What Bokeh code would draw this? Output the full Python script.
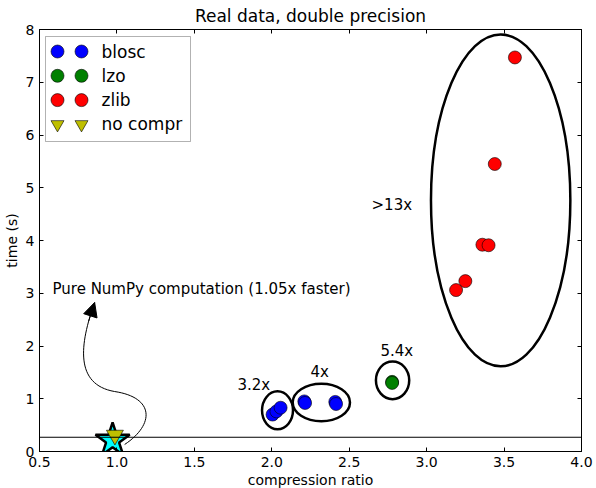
import numpy as np
from bokeh.plotting import figure
from bokeh.models import (LinearAxis, FixedTicker, Span, Arrow, NormalHead, Range1d,
                          BoxAnnotation, Label)
from bokeh.embed import file_html
from bokeh.resources import INLINE

# ---------------- data ----------------
blosc_x = [2.005, 2.03, 2.057, 2.21, 2.215, 2.41, 2.415]
blosc_y = [0.70, 0.76, 0.83, 0.95, 0.92, 0.94, 0.90]
lzo_x = [2.777, 2.777]
lzo_y = [1.32, 1.30]
zlib_x = [3.57, 3.44, 3.36, 3.40, 3.25, 3.19]
zlib_y = [7.47, 5.45, 3.92, 3.91, 3.23, 3.06]
nocompr_x = [0.987]
nocompr_y = [0.31]
numpy_x = [0.972]
numpy_y = [0.21]
numpy_baseline = 0.27

# groups circled and their labels
ell_x = [2.037, 2.32, 2.78, 3.478]
ell_y = [0.78, 0.93, 1.35, 4.76]
ell_w = [0.20, 0.37, 0.215, 0.90]
ell_h = [0.72, 0.71, 0.715, 6.29]
lab_text = ["3.2x", "4x", "5.4x", ">13x"]
lab_x = [1.884, 2.31, 2.807, 2.775]
lab_y = [1.27, 1.50, 1.90, 4.68]

note_text = "Pure NumPy computation (1.05x faster)"
note_x = 0.584
note_y = 3.09
# annotation arrow path (two cubic segments): start, c1, c2, mid, c3, c4, end
arr_px = [1.050, 1.244, 1.244, 0.985, 0.726, 0.759, 0.856]
arr_py = [0.133, 0.512, 1.024, 1.137, 1.270, 2.028, 2.825]

legend_labels = ["blosc", "lzo", "zlib", "no compr"]
legend_colors = ["#0000ff", "#008000", "#ff0000", "#bfbf00"]
legend_markers = ["circle", "circle", "circle", "inverted_triangle"]

x_ticks = [0.5, 1.0, 1.5, 2.0, 2.5, 3.0, 3.5, 4.0]
y_ticks = [0, 1, 2, 3, 4, 5, 6, 7, 8]

FONT = "DejaVu Sans"
X0, X1, Y0, Y1 = 0.5, 4.0, 0.0, 8.0
FW, FH = 542, 422

p = figure(frame_width=FW, frame_height=FH, x_range=Range1d(X0, X1), y_range=Range1d(Y0, Y1),
           output_backend="svg", toolbar_location=None,
           title="Real data, double precision",
           min_border_left=32, min_border_right=14, min_border_top=24, min_border_bottom=0)
p.title.align = "center"
p.title.text_font = FONT
p.title.text_font_size = "17px"
p.title.text_font_style = "normal"
p.title.text_color = "black"
p.title.standoff = 7
p.grid.visible = False
p.outline_line_color = "black"
p.outline_line_width = 1
p.background_fill_color = "white"
p.border_fill_color = "white"

for ax in (p.xaxis[0], p.yaxis[0]):
    ax.major_tick_in = 4
    ax.major_tick_out = 0
    ax.minor_tick_line_color = None
    ax.major_label_text_font = FONT
    ax.major_label_text_font_size = "14px"
    ax.major_label_text_color = "black"
    ax.axis_label_text_font = FONT
    ax.axis_label_text_font_size = "14px"
    ax.axis_label_text_font_style = "normal"
    ax.axis_label_text_color = "black"
    ax.axis_line_color = "black"
    ax.major_tick_line_color = "black"
p.xaxis[0].ticker = FixedTicker(ticks=x_ticks)
p.yaxis[0].ticker = FixedTicker(ticks=y_ticks)
p.xaxis[0].major_label_overrides = {t: f"{t:.1f}" for t in x_ticks}
p.xaxis[0].axis_label = "compression ratio"
p.yaxis[0].axis_label = "time (s)"
p.xaxis[0].major_label_standoff = 5
p.xaxis[0].axis_label_standoff = 2
p.yaxis[0].major_label_standoff = 5
p.yaxis[0].axis_label_standoff = 3

for side, ticks in (("above", x_ticks), ("right", y_ticks)):
    ax = LinearAxis(ticker=FixedTicker(ticks=ticks), major_tick_in=4, major_tick_out=0,
                    minor_tick_line_color=None, major_label_standoff=0,
                    major_label_overrides={t: "" for t in ticks},
                    axis_label_standoff=0, axis_line_color="black")
    p.add_layout(ax, side)

# baseline of pure numpy
p.add_layout(Span(location=numpy_baseline, dimension="width", line_color="black", line_width=1))

# ellipses
p.ellipse(x=ell_x, y=ell_y, width=ell_w, height=ell_h, fill_color=None,
          line_color="black", line_width=2.5)

# data points
p.scatter(blosc_x, blosc_y, marker="circle", size=13, fill_color="#0000ff", line_color="black", line_width=0.6)
p.scatter(lzo_x, lzo_y, marker="circle", size=13, fill_color="#008000", line_color="black", line_width=0.6)
p.scatter(zlib_x, zlib_y, marker="circle", size=13, fill_color="#ff0000", line_color="black", line_width=0.6)
p.scatter(numpy_x, numpy_y, marker="star", size=36, fill_color="#00ffff", line_color="black", line_width=2.5)
p.scatter(nocompr_x, nocompr_y, marker="inverted_triangle", size=17, fill_color="#bfbf00",
          line_color="black", line_width=0.6)

# labels
p.text(x=lab_x, y=lab_y, text=lab_text, text_align="center", text_baseline="middle",
       text_font_size="15px", text_font={"value": FONT}, text_color="black")
p.text(x=[note_x], y=[note_y], text=[note_text], text_align="left", text_baseline="middle",
       text_font_size="15px", text_font={"value": FONT}, text_color="black")

# curved arrow
p.bezier(x0=[arr_px[0], arr_px[3]], y0=[arr_py[0], arr_py[3]],
         x1=[arr_px[3], arr_px[6]], y1=[arr_py[3], arr_py[6]],
         cx0=[arr_px[1], arr_px[4]], cy0=[arr_py[1], arr_py[4]],
         cx1=[arr_px[2], arr_px[5]], cy1=[arr_py[2], arr_py[5]],
         line_color="black", line_width=1)
t = 0.85
bx = ((1-t)**3*arr_px[3] + 3*(1-t)**2*t*arr_px[4] + 3*(1-t)*t**2*arr_px[5] + t**3*arr_px[6])
by = ((1-t)**3*arr_py[3] + 3*(1-t)**2*t*arr_py[4] + 3*(1-t)*t**2*arr_py[5] + t**3*arr_py[6])
p.add_layout(Arrow(end=NormalHead(size=14, fill_color="black", line_color="black"),
                   x_start=bx, y_start=by, x_end=arr_px[6], y_end=arr_py[6],
                   line_color="black", line_width=1))

# ---- legend (matplotlib style, two markers per entry), laid out in frame pixels ----
def fx(px):  # pixels from frame left -> data x
    return X0 + px * (X1 - X0) / FW

def fy(py):  # pixels from frame top -> data y
    return Y1 - py * (Y1 - Y0) / FH

LG_LEFT, LG_RIGHT, LG_TOP, LG_BOTTOM = 6, 151, 7, 112
ROW0, ROW_STEP = 22, 24.3
MK1, MK2, TXT = 18, 42, 62
p.add_layout(BoxAnnotation(left=fx(LG_LEFT), right=fx(LG_RIGHT), top=fy(LG_TOP), bottom=fy(LG_BOTTOM),
                           fill_color="white", fill_alpha=1, line_color="black", line_width=1,
                           level="annotation"))
for i, (lab, col, mk) in enumerate(zip(legend_labels, legend_colors, legend_markers)):
    ry = fy(ROW0 + i * ROW_STEP)
    p.scatter([fx(MK1), fx(MK2)], [ry, ry], marker=mk, size=13, fill_color=col,
              line_color="black", line_width=0.6, level="overlay")
    p.add_layout(Label(x=fx(TXT), y=ry, text=lab, text_align="left", text_baseline="middle",
                       text_font=FONT, text_font_size="17px", text_color="black", level="overlay"))

open("out.html", "w").write(file_html(p, INLINE))
